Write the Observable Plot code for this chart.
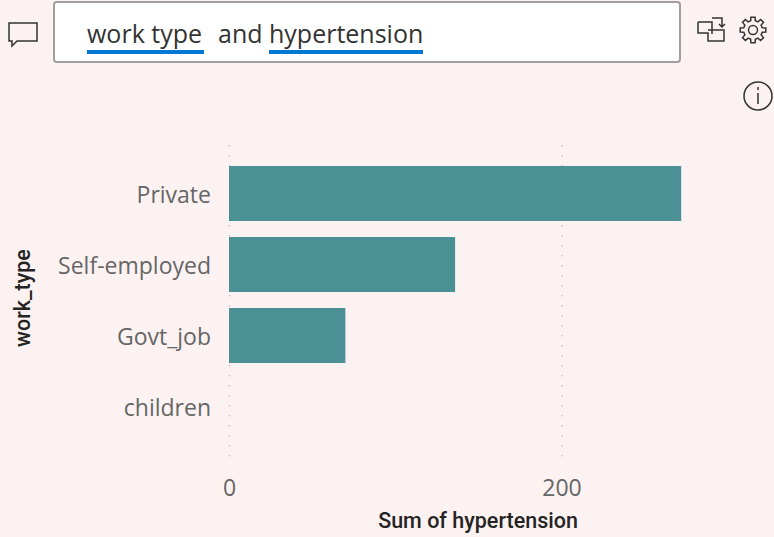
<!DOCTYPE html>
<html><head><meta charset="utf-8">
<script src="https://cdn.jsdelivr.net/npm/d3@7"></script>
<script src="https://cdn.jsdelivr.net/npm/@observablehq/plot@0.6"></script>
<style>
html,body{margin:0;padding:0;background:#fcf2f2;width:774px;height:537px;overflow:hidden}
#head{position:relative;width:774px;height:130px;font-family:"Open Sans",sans-serif}
#box{position:absolute;left:53px;top:1px;width:624px;height:58px;background:#fff;border:2px solid #a19f9d;border-radius:4px;box-sizing:content-box}
.q{position:absolute;top:16px;font-size:25px;line-height:34px;color:#333;white-space:nowrap;letter-spacing:0}
.u{position:absolute;top:50px;height:4px;background:#0078d4}
#head svg{position:absolute;left:0;top:0}
#chart svg{display:block}
</style></head><body>
<div id="head">
<div id="box"></div>
<div class="q" style="left:87px">work type</div><div class="u" style="left:87px;width:117px"></div>
<div class="q" style="left:218px">and</div>
<div class="q" style="left:269px">hypertension</div><div class="u" style="left:269px;width:154px"></div>
<svg width="774" height="130" fill="none" stroke="#333" stroke-width="1.5">
<path d="M9 23H37V41H17L12 46V41H9Z"/>
<path d="M698 22H712V34M698 22V33H708V41H724V30H708"/>
<path d="M712 18H722V27M719 24l3 3 3-3"/>
<path id="gear"/>
<circle cx="753" cy="30" r="4.5"/>
<circle cx="758" cy="96" r="14"/>
<path d="M758 93V104M758 87V90"/>
</svg>
</div>
<div id="chart"></div>
<script>
const workTypes = ["Private","Self-employed","Govt_job","children"];
const hypertension = [272,136,70,0];
const xTicks = [0,200];
const rows = workTypes.map((w,i)=>({w,v:hypertension[i]}));
const top0 = 130;
// settings icon outline
let g="";
for(let i=0;i<8;i++){
  const a=i*Math.PI/4;
  [[-0.24,9.5],[-0.16,13],[0.16,13],[0.24,9.5]].forEach(([d,r],j)=>{
    g+=((i||j)?"L":"M")+(753+r*Math.sin(a+d)).toFixed(1)+" "+(30-r*Math.cos(a+d)).toFixed(1);
  });
}
document.getElementById("gear").setAttribute("d",g+"Z");
const plot = Plot.plot({
  width:774, height:407,
  marginLeft:229.5, marginRight:92.5, marginTop:15, marginBottom:72,
  style:{background:"transparent",fontFamily:"'Open Sans',sans-serif",overflow:"visible"},
  x:{domain:[0,272],range:[229,681.2],label:null},
  y:{domain:workTypes,range:[165-top0,434.5-top0],paddingInner:0.23,paddingOuter:0,label:null},
  marks:[
    Plot.ruleX(xTicks,{stroke:"#c8c6c4",strokeWidth:1.5,strokeDasharray:"1.5 8.5"}),
    Plot.barX(rows,{x:"v",y:"w",fill:"#4a9095"}),
    Plot.axisY({tickSize:0,tickPadding:19,fontSize:23,dy:1.5,label:null,color:"#666"}),
    Plot.axisX(xTicks,{tickSize:0,tickPadding:14,fontSize:23,label:null,color:"#666",anchor:"bottom"}),
    Plot.text(["Sum of hypertension"],{frameAnchor:"bottom",dx:22,dy:62,text:d=>d,fontSize:21.5,fill:"#252423",fontFamily:"Roboto",fontWeight:500}),
    Plot.text(["work_type"],{frameAnchor:"left",dx:-207,dy:41.5,text:d=>d,rotate:-90,fontSize:21.5,fill:"#252423",fontFamily:"Roboto",fontWeight:500})
  ]
});
document.getElementById("chart").append(plot);
</script>
</body></html>
